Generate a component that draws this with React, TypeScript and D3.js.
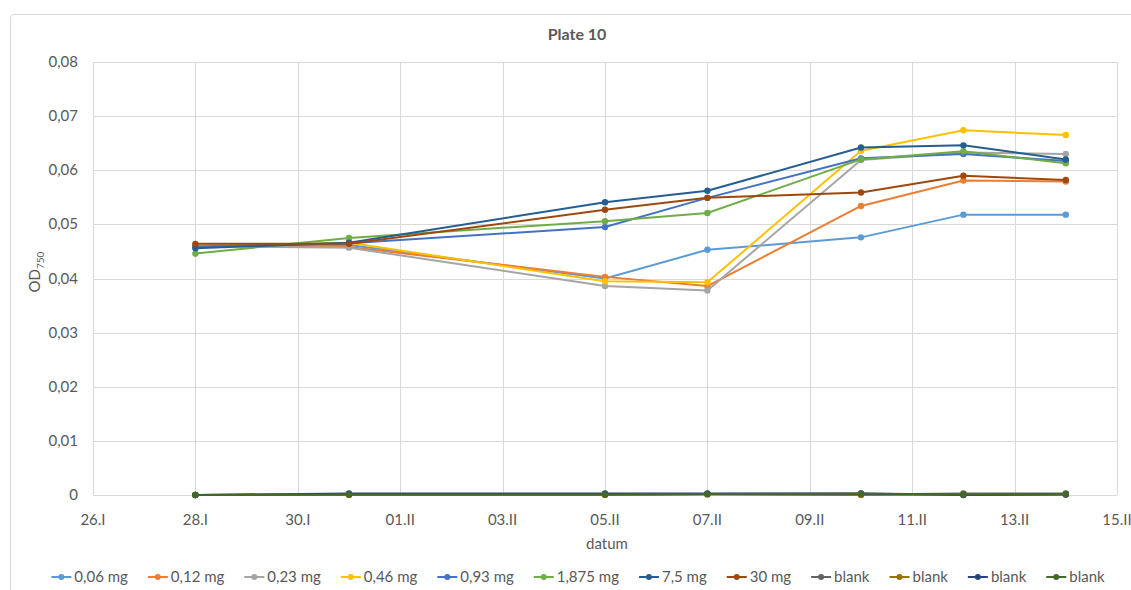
import React from "react";
import * as d3 from "d3";

const dates = ["2021-01-28", "2021-01-31", "2021-02-05", "2021-02-07", "2021-02-10", "2021-02-12", "2021-02-14"];
const xTickLabels = ["26.I", "28.I", "30.I", "01.II", "03.II", "05.II", "07.II", "09.II", "11.II", "13.II", "15.II"];
const yTicks = [0, 0.01, 0.02, 0.03, 0.04, 0.05, 0.06, 0.07, 0.08];

const seriesNames = ["0,06 mg", "0,12 mg", "0,23 mg", "0,46 mg", "0,93 mg", "1,875 mg", "7,5 mg", "30 mg", "blank", "blank", "blank", "blank"];
const seriesColors = ["#5B9BD5", "#ED7D31", "#A5A5A5", "#FFC000", "#4472C4", "#70AD47", "#255E91", "#9E480E", "#636363", "#997300", "#264478", "#43682B"];

const s006 = [0.0460, 0.0462, 0.0400, 0.0453, 0.0476, 0.0518, 0.0518];
const s012 = [0.0461, 0.0458, 0.0403, 0.0386, 0.0534, 0.0581, 0.0579];
const s023 = [0.0460, 0.0457, 0.0386, 0.0378, 0.0619, 0.0633, 0.0630];
const s046 = [0.0460, 0.0466, 0.0395, 0.0393, 0.0636, 0.0674, 0.0665];
const s093 = [0.0459, 0.0465, 0.0495, 0.0549, 0.0622, 0.0630, 0.0617];
const s1875 = [0.0446, 0.0475, 0.0506, 0.0521, 0.0620, 0.0635, 0.0613];
const s75 = [0.0456, 0.0466, 0.0541, 0.0562, 0.0642, 0.0646, 0.0620];
const s30 = [0.0464, 0.0464, 0.0527, 0.0549, 0.0559, 0.0590, 0.0582];
const blank1 = [0.0000, 0.0001, 0.0001, 0.0002, 0.0001, 0.0003, 0.0003];
const blank2 = [0.0000, 0.0000, 0.0000, 0.0001, 0.0000, 0.0001, 0.0001];
const blank3 = [0.0000, 0.0003, 0.0003, 0.0003, 0.0003, 0.0000, 0.0001];
const blank4 = [0.0000, 0.0001, 0.0001, 0.0002, 0.0003, 0.0001, 0.0002];

const seriesValues = [s006, s012, s023, s046, s093, s1875, s75, s30, blank1, blank2, blank3, blank4];

const W = 1131;
const H = 590;
const FONT = "Lato, 'Open Sans', sans-serif";
const TXT = "#595959";

function measure(text: string, font: string): number {
  if (typeof document === "undefined") return text.length * 7;
  const c = document.createElement("canvas");
  const ctx = c.getContext("2d");
  if (!ctx) return text.length * 7;
  ctx.font = font;
  return ctx.measureText(text).width;
}

export default function App() {
  const parse = d3.timeParse("%Y-%m-%d");
  const start = parse("2021-01-26") as Date;
  const end = parse("2021-02-15") as Date;
  const x = d3.scaleTime().domain([start, end]).range([93, 1117]);
  const y = d3.scaleLinear().domain([0, 0.08]).range([495, 62]);
  const xTickDates = d3.range(0, 21, 2).map((k) => d3.timeDay.offset(start, k));
  const pts = dates.map((d) => parse(d) as Date);

  const line = d3
    .line<number>()
    .x((_, i) => x(pts[i]))
    .y((v) => y(v));

  const legendFont = `15px ${FONT}`;
  const lineLen = 20;
  const gapText = 3;
  const gapItem = 20;
  const widths = seriesNames.map((n) => lineLen + gapText + measure(n, legendFont));
  const total = widths.reduce((a, b) => a + b, 0) + gapItem * (widths.length - 1);
  let cur = 578 - total / 2;
  const legendPos = widths.map((w) => {
    const p = cur;
    cur += w + gapItem;
    return p;
  });
  const legendY = 577;

  return (
    <svg width={W} height={H} style={{ position: "fixed", left: 0, top: 0, background: "#fff" }} fontFamily={FONT}>
      <rect x={0} y={0} width={W} height={H} fill="#fff" />
      <rect x={10.5} y={14.5} width={W + 10} height={H + 10} rx={3} fill="#fff" stroke="#D9D9D9" strokeWidth={1} />
      <text x={577} y={40} textAnchor="middle" fontSize={16} fontWeight="bold" fill={TXT}>
        Plate 10
      </text>
      {yTicks.map((t) => (
        <line key={"gy" + t} x1={93} x2={1117} y1={Math.round(y(t)) + 0.5} y2={Math.round(y(t)) + 0.5} stroke="#D9D9D9" strokeWidth={1} />
      ))}
      {xTickDates.map((d, i) => (
        <line key={"gx" + i} x1={Math.round(x(d)) + 0.5} x2={Math.round(x(d)) + 0.5} y1={62} y2={495} stroke="#D9D9D9" strokeWidth={1} />
      ))}
      {yTicks.map((t) => (
        <text key={"ty" + t} x={78} y={y(t) + 5} textAnchor="end" fontSize={15} fill={TXT}>
          {t === 0 ? "0" : d3.format(".2f")(t).replace(".", ",")}
        </text>
      ))}
      {xTickDates.map((d, i) => (
        <text key={"tx" + i} x={x(d)} y={525} textAnchor="middle" fontSize={15} fill={TXT}>
          {xTickLabels[i]}
        </text>
      ))}
      <text x={607} y={549} textAnchor="middle" fontSize={15} fill={TXT}>
        datum
      </text>
      <text transform={`translate(40,272) rotate(-90)`} textAnchor="middle" fontSize={15} fill={TXT}>
        OD
        <tspan fontSize={10} dy={4}>
          750
        </tspan>
      </text>
      {seriesValues.map((vals, si) => (
        <g key={"s" + si}>
          <path d={line(vals) || ""} fill="none" stroke={seriesColors[si]} strokeWidth={2} strokeLinejoin="round" />
          {vals.map((v, i) => (
            <circle key={i} cx={x(pts[i])} cy={y(v)} r={3.2} fill={seriesColors[si]} />
          ))}
        </g>
      ))}
      {seriesNames.map((n, i) => (
        <g key={"l" + i} transform={`translate(${legendPos[i]},${legendY})`}>
          <line x1={0} x2={lineLen} y1={0} y2={0} stroke={seriesColors[i]} strokeWidth={2} />
          <circle cx={lineLen / 2} cy={0} r={3} fill={seriesColors[i]} />
          <text x={lineLen + gapText} y={5} fontSize={15} fill={TXT}>
            {n}
          </text>
        </g>
      ))}
    </svg>
  );
}
